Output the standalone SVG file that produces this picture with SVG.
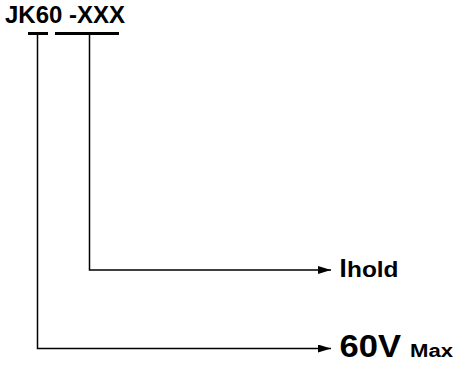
<svg xmlns="http://www.w3.org/2000/svg" width="454" height="365" viewBox="0 0 454 365">
<defs>
<style>
.t{font-family:"Liberation Sans",Arial,sans-serif;font-weight:bold;fill:#000}
.ln{stroke:#000;stroke-width:1.5;fill:none}
.bar{stroke:#000;stroke-width:3;fill:none}
</style>
<marker id="ah" viewBox="0 0 13 8" refX="13" refY="4" markerWidth="13" markerHeight="8" markerUnits="userSpaceOnUse" orient="auto">
<path d="M0,0 L13,4 L0,8 Z" fill="#000"/>
</marker>
</defs>
<rect width="454" height="365" fill="#fff"/>
<g id="title">
<text class="t" x="5" y="23" font-size="24">JK60 -XXX</text>
<line class="bar" x1="28" y1="33.5" x2="48" y2="33.5"/>
<line class="bar" x1="55" y1="33.5" x2="119" y2="33.5"/>
</g>
<g id="connectors">
<polyline class="ln" points="89.5,35 89.5,270 331,270" marker-end="url(#ah)"/>
<polyline class="ln" points="37.5,35 37.5,348.5 331,348.5" marker-end="url(#ah)"/>
</g>
<g id="ihold">
<text class="t" x="339.5" y="276.5" font-size="26">I</text>
<text class="t" x="347" y="276.5" font-size="21.5" textLength="51.5" lengthAdjust="spacingAndGlyphs">hold</text>
</g>
<g id="vmax">
<text class="t" x="339.5" y="357" font-size="31" textLength="61.5" lengthAdjust="spacingAndGlyphs">60V</text>
<text class="t" x="410" y="357" font-size="18" textLength="43" lengthAdjust="spacingAndGlyphs">Max</text>
</g>
</svg>
